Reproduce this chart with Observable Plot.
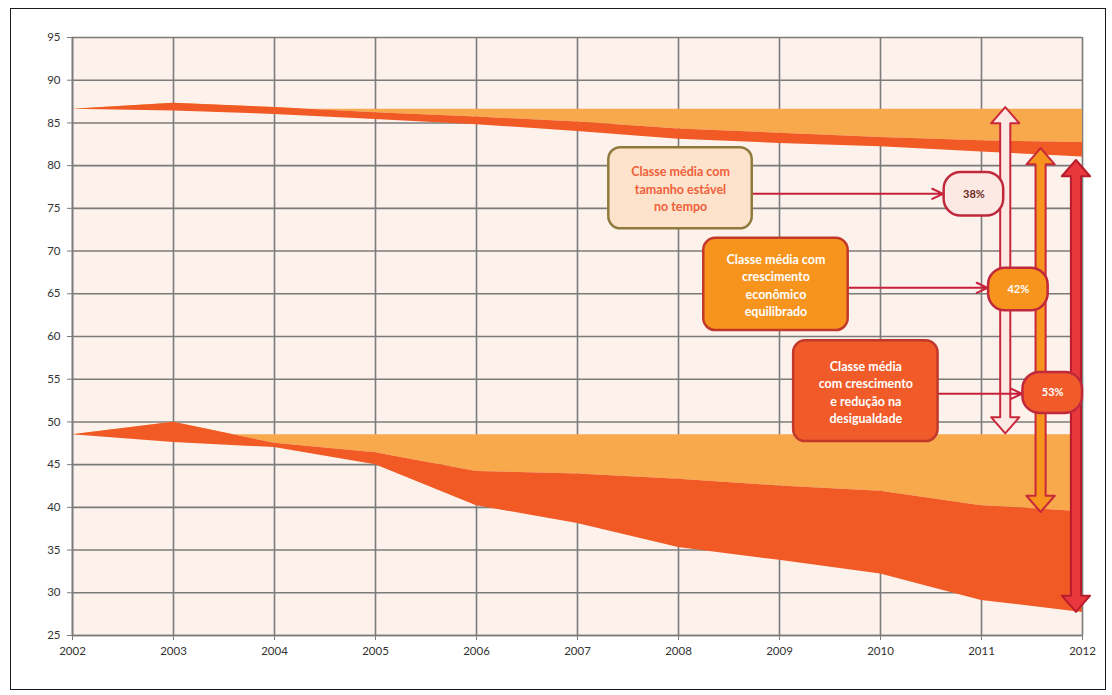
<!DOCTYPE html>
<html>
<head>
<meta charset="utf-8">
<script src="https://cdn.jsdelivr.net/npm/d3@7"></script>
<script src="https://cdn.jsdelivr.net/npm/@observablehq/plot@0.6"></script>
<style>
  html, body { margin: 0; padding: 0; background: #ffffff; }
  #wrap { position: relative; width: 1112px; height: 695px; overflow: hidden; }
  #border { position: absolute; left: 10px; top: 8px; width: 1094px; height: 680px; border: 1.5px solid #1a1a1a; pointer-events: none; }
  #chart { position: absolute; left: 0; top: 0; }
</style>
</head>
<body>
<div id="wrap"><div id="chart"></div><div id="border"></div></div>
<script>
// ---- data ----
const years = [2002, 2003, 2004, 2005, 2006, 2007, 2008, 2009, 2010, 2011, 2012];
const yTicks = [25, 30, 35, 40, 45, 50, 55, 60, 65, 70, 75, 80, 85, 90, 95];

// upper limit of the middle class
const stableUpper    = [86.6, 86.6, 86.6, 86.6, 86.6, 86.6, 86.6, 86.6, 86.6, 86.6, 86.6];
const balancedUpper  = [86.6, 87.3, 86.8, 86.2, 85.7, 85.1, 84.3, 83.8, 83.3, 82.9, 82.7];
const reductionUpper = [86.6, 86.4, 86.0, 85.4, 84.8, 84.0, 83.1, 82.6, 82.2, 81.6, 81.0];

// lower limit of the middle class
const stableLower    = [48.5, 48.5, 48.5, 48.5, 48.5, 48.5, 48.5, 48.5, 48.5, 48.5, 48.5];
const balancedLower  = [48.5, 49.95, 47.5, 46.4, 44.2, 43.9, 43.3, 42.5, 41.9, 40.2, 39.5];
const reductionLower = [48.5, 47.6, 47.0, 45.0, 40.2, 38.1, 35.3, 33.8, 32.2, 29.1, 27.7];

// annotations
const boxLabels = [
  "Classe média com\ntamanho estável\nno tempo",
  "Classe média com\ncrescimento\neconômico\nequilibrado",
  "Classe média\ncom crescimento\ne redução na\ndesigualdade"
];
const shareLabels = ["38%", "42%", "53%"];
const boxX1 = [2007.31, 2008.25, 2009.14];
const boxX2 = [2008.73, 2009.68, 2010.57];
const boxYTop = [82.1, 71.5, 59.5];
const boxYBottom = [72.6, 60.7, 47.7];
const connectorY = [76.7, 65.7, 53.3];
const bubbleX1 = [2010.63, 2011.07, 2011.41];
const bubbleX2 = [2011.22, 2011.66, 2012.0];
const bubbleYTop = [79.2, 68.0, 55.8];
const bubbleYBottom = [74.1, 63.0, 51.0];
const spanX = [2011.24, 2011.59, 2011.94];
const spanTop = [86.8, 82.0, 80.6];
const spanBottom = [48.6, 39.4, 27.7];

// ---- styles ----
const C_LIGHT = "#f7a94b";
const C_RED = "#f15a24";
const boxFill = ["#fde3cc", "#f7941d", "#f15a29"];
const boxStroke = ["#8e7b3c", "#c0392b", "#c0392b"];
const boxText = ["#f0603a", "#ffffff", "#ffffff"];
const bubbleFill = ["#fde9e3", "#f7941d", "#f15a29"];
const bubbleText = ["#6b2a22", "#ffffff", "#ffffff"];
const spanFill = ["#fde8e4", "#f7941d", "#e8383d"];
const spanStroke = ["#c8283a", "#c8283a", "#b81c2c"];

const rows = years.map((year, i) => ({
  year,
  su: stableUpper[i], bu: balancedUpper[i], ru: reductionUpper[i],
  sl: stableLower[i], bl: balancedLower[i], rl: reductionLower[i]
}));

const boxes = boxLabels.map((label, i) => ({
  label, x1: boxX1[i], x2: boxX2[i], y1: boxYTop[i], y2: boxYBottom[i],
  tx: (boxX1[i] + boxX2[i]) / 2, ty: (boxYTop[i] + boxYBottom[i]) / 2,
  cy: connectorY[i], bx: bubbleX1[i],
  fill: boxFill[i], stroke: boxStroke[i], color: boxText[i]
}));
const bubbles = shareLabels.map((label, i) => ({
  label, x1: bubbleX1[i], x2: bubbleX2[i], y1: bubbleYTop[i], y2: bubbleYBottom[i],
  tx: (bubbleX1[i] + bubbleX2[i]) / 2, ty: (bubbleYTop[i] + bubbleYBottom[i]) / 2,
  fill: bubbleFill[i], color: bubbleText[i]
}));

// double-headed block arrows as polygons (head/shaft sizes are style constants)
const HEAD_H = 1.9, HEAD_W = 0.14, SHAFT_W = 0.05;
function spanShape(i) {
  const cx = spanX[i], t = spanTop[i], b = spanBottom[i];
  return [
    {y: t, l: cx, r: cx},
    {y: t - HEAD_H, l: cx - HEAD_W, r: cx + HEAD_W},
    {y: t - HEAD_H, l: cx - SHAFT_W, r: cx + SHAFT_W},
    {y: b + HEAD_H, l: cx - SHAFT_W, r: cx + SHAFT_W},
    {y: b + HEAD_H, l: cx - HEAD_W, r: cx + HEAD_W},
    {y: b, l: cx, r: cx}
  ];
}

const font = "Lato, 'Open Sans', sans-serif";

const plot = Plot.plot({
  width: 1112,
  height: 695,
  marginLeft: 72,
  marginRight: 30,
  marginTop: 37,
  marginBottom: 60,
  style: {fontFamily: font, fontSize: "11px", color: "#333", background: "transparent"},
  x: {domain: [2002, 2012], axis: null},
  y: {domain: [25, 95], axis: null},
  marks: [
    Plot.frame({fill: "#fdf1eb", stroke: null}),
    Plot.gridX(years, {stroke: "#7b7b7b", strokeOpacity: 1, strokeWidth: 1.6}),
    Plot.gridY(yTicks, {stroke: "#7b7b7b", strokeOpacity: 1, strokeWidth: 1.6}),
    // upper band
    Plot.areaY(rows, {x: "year", y1: "su", y2: "bu", fill: C_LIGHT}),
    Plot.areaY(rows, {x: "year", y1: "bu", y2: "ru", fill: C_RED}),
    // lower band
    Plot.areaY(rows, {x: "year", y1: "sl", y2: "bl", fill: C_LIGHT}),
    Plot.areaY(rows, {x: "year", y1: "bl", y2: "rl", fill: C_RED}),
    // axes
    Plot.ruleX([2002], {stroke: "#7b7b7b", strokeWidth: 1.6}),
    Plot.ruleY([25], {stroke: "#7b7b7b", strokeWidth: 1.6}),
    Plot.axisY(yTicks, {ticks: yTicks, tickSize: 5, tickPadding: 7, stroke: "#7b7b7b", fill: "#333", fontSize: 11.5, tickFormat: d => String(d)}),
    Plot.axisX(years, {ticks: years, tickSize: 5, tickPadding: 6, stroke: "#7b7b7b", fill: "#333", fontSize: 11.5, tickFormat: d => String(d)}),
    // vertical double arrows
    ...spanX.map((_, i) => Plot.areaX(spanShape(i), {y: "y", x1: "l", x2: "r", fill: spanFill[i], stroke: spanStroke[i], strokeWidth: 2})),
    // connectors
    Plot.arrow(boxes, {x1: "x2", y1: "cy", x2: "bx", y2: "cy", stroke: "#c8203a", strokeWidth: 2, headLength: 9, headAngle: 50, insetEnd: 1}),
    // boxes
    Plot.rect(boxes, {x1: "x1", x2: "x2", y1: "y1", y2: "y2", fill: "fill", stroke: "stroke", strokeWidth: 2.5, rx: 12}),
    Plot.text(boxes, {x: "tx", y: "ty", text: "label", fill: "color", fontWeight: "bold", fontSize: 12.5, lineHeight: 1.4}),
    // bubbles
    Plot.rect(bubbles, {x1: "x1", x2: "x2", y1: "y1", y2: "y2", fill: "fill", stroke: "#c0283c", strokeWidth: 2.5, rx: 17}),
    Plot.text(bubbles, {x: "tx", y: "ty", text: "label", fill: "color", fontWeight: "bold", fontSize: 11})
  ]
});
document.getElementById("chart").appendChild(plot);
</script>
</body>
</html>
